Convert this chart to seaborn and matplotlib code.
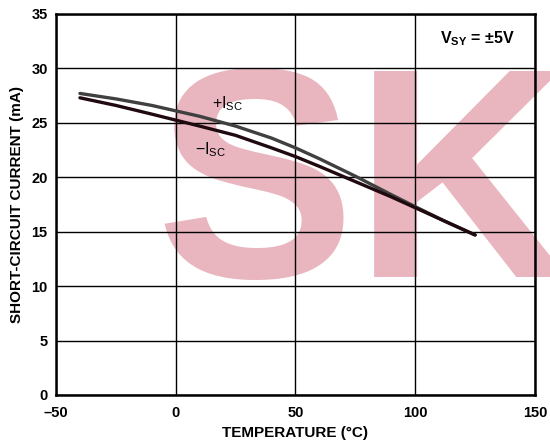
import numpy as np
import pandas as pd
import matplotlib
matplotlib.use("Agg")
import matplotlib.pyplot as plt
import seaborn as sns

# values
temp = [-40, -25, -10, 0, 10, 25, 40, 50, 60, 75, 90, 100, 112, 125]
isc_plus = [27.7, 27.2, 26.6, 26.1, 25.6, 24.7, 23.6, 22.7, 21.7, 20.1, 18.4, 17.3, 16.0, 14.7]
isc_minus = [27.3, 26.6, 25.8, 25.25, 24.7, 23.85, 22.7, 21.9, 21.0, 19.6, 18.2, 17.2, 16.0, 14.7]
series_names = ["+ISC", "-ISC"]
x_ticks = [-50, 0, 50, 100, 150]
y_ticks = [0, 5, 10, 15, 20, 25, 30, 35]

df = pd.DataFrame({
    "temp": temp + temp,
    "isc": isc_plus + isc_minus,
    "series": [series_names[0]] * len(temp) + [series_names[1]] * len(temp),
})

sns.set_style("white")
plt.rcParams["font.family"] = ["Liberation Sans", "DejaVu Sans"]
plt.rcParams["mathtext.fontset"] = "custom"
plt.rcParams["mathtext.rm"] = "Liberation Sans"
plt.rcParams["mathtext.it"] = "Liberation Sans:italic"
plt.rcParams["mathtext.bf"] = "Liberation Sans:bold"
plt.rcParams["text.color"] = "black"
plt.rcParams["axes.labelcolor"] = "black"
plt.rcParams["xtick.color"] = "black"
plt.rcParams["ytick.color"] = "black"

fig = plt.figure(figsize=(5.5, 4.44), dpi=100)
ax = fig.add_axes([0.1018, 0.1104, 0.8709, 0.8581])
ax.set_facecolor("none")

# pink watermark behind the plot
fig.text(0.282, 0.376, "SK", fontsize=215, fontweight="bold",
         color="#e9b6c0", zorder=-5)

sns.lineplot(data=df, x="temp", y="isc", hue="series",
             palette={"+ISC": "#404040", "-ISC": "#200a10"},
             linewidth=2.4, legend=False, ax=ax)

ax.set_xlim(-50, 150)
ax.set_ylim(0, 35)
ax.set_xticks(x_ticks)
ax.set_yticks(y_ticks)
ax.set_xticklabels([str(t).replace("-", "\u2013") for t in x_ticks],
                   fontweight="bold", fontsize=10.5)
ax.set_yticklabels([str(t) for t in y_ticks], fontweight="bold", fontsize=10.5)
ax.tick_params(axis="both", length=0, colors="black")
ax.tick_params(axis="x", pad=8)
ax.tick_params(axis="y", pad=6)

ax.grid(True, color="black", linewidth=1.0)
ax.set_axisbelow(True)
for sp in ax.spines.values():
    sp.set_color("black")
    sp.set_linewidth(1.8)

ax.set_xlabel("TEMPERATURE (°C)", fontweight="bold", fontsize=11, labelpad=4)
ax.set_ylabel("SHORT-CIRCUIT CURRENT (mA)", fontweight="bold", fontsize=11,
              labelpad=5)

ax.text(15, 26.35, r"+I$_{\mathrm{SC}}$", fontsize=11.5, va="baseline")
ax.text(8, 22.1, "\u2212I$_{\\mathrm{SC}}$", fontsize=11.5, va="baseline")
ax.text(110.3, 32.3, r"V$_{\mathbf{SY}}$ = ±5V", fontsize=11.5,
        fontweight="bold", va="baseline")

fig.savefig("out.png", dpi=100)
